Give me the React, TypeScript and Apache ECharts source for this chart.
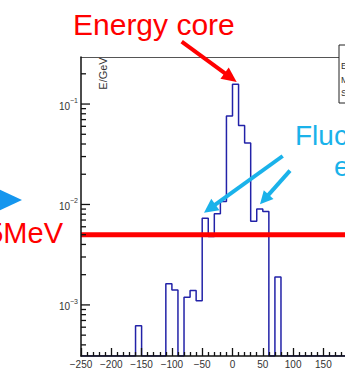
import React, { useEffect, useRef } from "react";
import * as echarts from "echarts";

// Axis ranges
const X_MIN = -250;
const X_MAX = 250;
const X_INTERVAL = 50;
const BIN_WIDTH = 10;
const Y_MIN = 3.1e-4;
const Y_MAX = 0.294;

// 5 MeV threshold, in GeV
const THRESHOLD = 0.005;

// Histogram: low edge of each bin and its energy content (GeV)
const binLowEdges = [
  -160, -150, -140, -130, -120, -110, -100, -90, -80, -70, -60, -50,
  -40, -30, -20, -10, 0, 10, 20, 30, 40, 50, 60, 70,
];
const binContents = [
  6.2e-4, 0, 0, 0, 0, 1.62e-3, 1.41e-3, 0, 1.19e-3, 1.39e-3, 1.1e-3, 7.3e-3,
  4.8e-3, 8.1e-3, 1.07e-2, 7.6e-2, 0.157, 0.061, 0.041, 6.8e-3, 9.0e-3, 8.5e-3, 0, 1.9e-3,
];

// Stats box rows
const statsRows = ["Entries", "Mean", "Std Dev"];

const FONT = "'Liberation Sans', Arial, Helvetica, sans-serif";
const RED = "#ff0000";
const CYAN = "#1ab2ea";
const HIST_BLUE = "#2222a8";

// The pad is wider than the visible window; its right part is cut off.
const VIEW_W = 345;
const VIEW_H = 374;
const PAD_W = 420;

function arrow(x1: number, y1: number, x2: number, y2: number, color: string, width: number, headLen: number, headHalf: number) {
  const dx = x2 - x1;
  const dy = y2 - y1;
  const len = Math.hypot(dx, dy);
  const ux = dx / len;
  const uy = dy / len;
  const bx = x2 - ux * headLen;
  const by = y2 - uy * headLen;
  const px = -uy;
  const py = ux;
  return [
    {
      type: "line",
      z: 100,
      shape: { x1, y1, x2: bx + ux, y2: by + uy },
      style: { stroke: color, lineWidth: width, lineCap: "butt" },
    },
    {
      type: "polygon",
      z: 100,
      shape: {
        points: [
          [x2, y2],
          [bx + px * headHalf, by + py * headHalf],
          [bx - px * headHalf, by - py * headHalf],
        ],
      },
      style: { fill: color },
    },
  ];
}

export default function App() {
  const ref = useRef<HTMLDivElement>(null);

  useEffect(() => {
    if (!ref.current) return;
    const chart = echarts.init(ref.current, null, { renderer: "svg" });

    // Outline of the histogram; empty bins sit on the axis floor
    const histPoints: number[][] = [[X_MIN, Y_MIN]];
    binLowEdges.forEach((lo, i) => {
      histPoints.push([lo, binContents[i] > 0 ? binContents[i] : Y_MIN]);
    });
    const lastEdge = binLowEdges[binLowEdges.length - 1] + BIN_WIDTH;
    histPoints.push([lastEdge, Y_MIN]);
    histPoints.push([X_MAX, Y_MIN]);

    // Log-axis ticks: decades long, 2..9 short
    const yTicks: number[][] = [];
    for (let d = -4; d <= 0; d++) {
      for (let k = 1; k <= 9; k++) {
        const v = k * Math.pow(10, d);
        if (v >= Y_MIN && v <= Y_MAX) yTicks.push([X_MIN, v, k === 1 ? 1 : 0]);
      }
    }

    const option: any = {
      animation: false,
      grid: { left: 81, top: 57, width: 303, height: 299, containLabel: false },
      xAxis: [
        {
          type: "value",
          min: X_MIN,
          max: X_MAX,
          interval: X_INTERVAL,
          z: 5,
          axisLine: { show: true, onZero: false, lineStyle: { color: "#111", width: 1.5 } },
          axisTick: { show: true, inside: true, length: 8, lineStyle: { color: "#111", width: 1.3 } },
          minorTick: { show: true, splitNumber: 5, length: 4, lineStyle: { color: "#111", width: 1.3 } },
          splitLine: { show: false },
          axisLabel: {
            margin: 3,
            fontSize: 10,
            color: "#333",
            fontFamily: FONT,
            formatter: (v: number) => (v < 0 ? "\u2212" + Math.abs(v) : String(v)),
          },
        },
        {
          type: "value",
          position: "top",
          min: X_MIN,
          max: X_MAX,
          interval: X_INTERVAL,
          axisLine: { show: true, onZero: false, lineStyle: { color: "#555", width: 1 } },
          axisTick: { show: false },
          axisLabel: { show: false },
          splitLine: { show: false },
        },
      ],
      yAxis: {
        type: "log",
        logBase: 10,
        min: Y_MIN,
        max: Y_MAX,
        z: 5,
        axisLine: { show: true, onZero: false, lineStyle: { color: "#111", width: 1.5 } },
        axisTick: { show: false },
        splitLine: { show: false },
        axisLabel: {
          margin: 3,
          color: "#333",
          fontFamily: FONT,
          formatter: (v: number) => {
            const l = Math.log10(v);
            const e = Math.round(l);
            if (Math.abs(l - e) > 1e-6) return "";
            return "{b|10}{s|\u2212" + Math.abs(e) + "}";
          },
          rich: {
            b: { fontSize: 10, color: "#333", fontFamily: FONT, lineHeight: 14, verticalAlign: "bottom" },
            s: { fontSize: 7, color: "#333", fontFamily: FONT, lineHeight: 8, verticalAlign: "top" },
          },
        },
      },
      series: [
        {
          type: "line",
          name: "E",
          xAxisIndex: 0,
          yAxisIndex: 0,
          data: histPoints,
          step: "end",
          symbol: "none",
          z: 2,
          lineStyle: { color: HIST_BLUE, width: 1.5 },
        },
        {
          type: "line",
          name: "threshold",
          xAxisIndex: 0,
          yAxisIndex: 0,
          data: [
            [X_MIN, THRESHOLD],
            [X_MAX, THRESHOLD],
          ],
          symbol: "none",
          z: 3,
          lineStyle: { color: RED, width: 5 },
        },
        {
          type: "custom",
          name: "yticks",
          xAxisIndex: 0,
          yAxisIndex: 0,
          z: 6,
          silent: true,
          encode: { x: 0, y: 1 },
          data: yTicks,
          renderItem: (_params: any, api: any) => {
            const p = api.coord([api.value(0), api.value(1)]);
            const len = api.value(2) ? 9 : 5;
            return {
              type: "line",
              shape: { x1: p[0], y1: p[1], x2: p[0] + len, y2: p[1] },
              style: { stroke: "#111", lineWidth: 1.3 },
            };
          },
        },
      ],
      graphic: [
        // Axis title
        {
          type: "text",
          z: 100,
          x: 103,
          y: 73.5,
          rotation: Math.PI / 2,
          style: {
            text: "E/GeV",
            x: 0,
            y: 0,
            fill: "#333",
            font: "11px " + FONT,
            textAlign: "center",
            textVerticalAlign: "middle",
          },
        },
        // Stats box
        {
          type: "rect",
          z: 100,
          shape: { x: 339, y: 45, width: 60, height: 58 },
          style: { fill: "#fff", stroke: "#222", lineWidth: 1 },
        },
        ...statsRows.map((t, i) => ({
          type: "text",
          z: 101,
          style: {
            text: t,
            x: 341,
            y: 66 + i * 13.5,
            fill: "#333",
            font: "9px " + FONT,
            textAlign: "left",
            textVerticalAlign: "middle",
          },
        })),
        // Annotations
        {
          type: "text",
          z: 100,
          style: {
            text: "Energy core",
            x: 73,
            y: 24.5,
            fill: RED,
            font: "30px " + FONT,
            textAlign: "left",
            textVerticalAlign: "middle",
          },
        },
        ...arrow(181.7, 41.7, 236.7, 82, RED, 4, 15, 7),
        {
          type: "text",
          z: 100,
          style: {
            text: "5MeV",
            x: 63,
            y: 233,
            fill: RED,
            font: "29px " + FONT,
            textAlign: "right",
            textVerticalAlign: "middle",
          },
        },
        {
          type: "polygon",
          z: 100,
          shape: {
            points: [
              [-12, 184],
              [22, 200],
              [-12, 216],
            ],
          },
          style: { fill: "#1596ee" },
        },
        {
          type: "text",
          z: 100,
          style: {
            text: "Fluctuation",
            x: 295,
            y: 135.5,
            fill: CYAN,
            font: "28px " + FONT,
            textAlign: "left",
            textVerticalAlign: "middle",
          },
        },
        {
          type: "text",
          z: 100,
          style: {
            text: "energy",
            x: 334,
            y: 166.5,
            fill: CYAN,
            font: "28px " + FONT,
            textAlign: "left",
            textVerticalAlign: "middle",
          },
        },
        ...arrow(282.7, 156, 204, 212.7, CYAN, 4, 14, 7),
        ...arrow(290, 170.7, 260, 204.3, CYAN, 4, 13, 6.5),
      ],
    };

    chart.setOption(option);
    return () => {
      chart.dispose();
    };
  }, []);

  return (
    <div
      style={{
        position: "fixed",
        left: 0,
        top: 0,
        width: VIEW_W,
        height: VIEW_H,
        overflow: "hidden",
        background: "#fff",
      }}
    >
      <div ref={ref} style={{ width: PAD_W, height: VIEW_H }} />
    </div>
  );
}
